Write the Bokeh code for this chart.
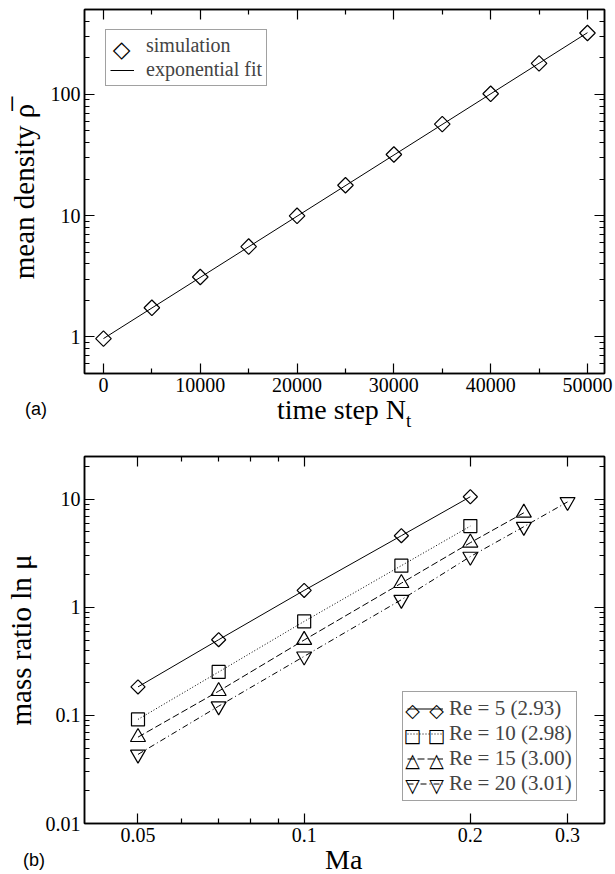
import math
from bokeh.plotting import figure
from bokeh.models import (LinearAxis, LogAxis, FixedTicker, Range1d, Label,
                          Legend, LegendItem, CustomJSTickFormatter, Div)
from bokeh.layouts import column
from bokeh.embed import file_html
from bokeh.resources import INLINE

# ---------------- data : panel (a) ----------------
time_steps = [0, 5000, 10000, 15000, 20000, 25000, 30000, 35000, 40000, 45000, 50000]
mean_density = [0.97, 1.74, 3.12, 5.56, 9.97, 17.8, 31.9, 56.8, 101, 180, 320]
fit_steps = [0, 50000]
fit_density = [0.97, 322]
legend_a_labels = ["simulation", "exponential fit"]

a_x_ticks = [0, 10000, 20000, 30000, 40000, 50000]
a_x_tick_labels = ["0", "10000", "20000", "30000", "40000", "50000"]
a_x_minor = [5000, 15000, 25000, 35000, 45000]
a_y_ticks = [1, 10, 100]
a_y_tick_labels = ["1", "10", "100"]

# ---------------- data : panel (b) ----------------
mach = [0.05, 0.07, 0.1, 0.15, 0.2, 0.25, 0.3]
re5 = [0.184, 0.503, 1.44, 4.62, 10.6]
re10 = [0.092, 0.253, 0.743, 2.44, 5.67]
re15 = [0.063, 0.168, 0.50, 1.68, 3.98, 7.53]
re20 = [0.0436, 0.122, 0.353, 1.18, 2.96, 5.6, 9.5]
series_labels = ["Re = 5 (2.93)", "Re = 10 (2.98)", "Re = 15 (3.00)", "Re = 20 (3.01)"]
series_symbols = ["\u25c7", "\u25a1", "\u25b3", "\u25bd"]

b_x_ticks = [0.05, 0.1, 0.2, 0.3]
b_x_tick_labels = ["0.05", "0.1", "0.2", "0.3"]
b_x_minor = [0.06, 0.07, 0.08, 0.09]
b_y_ticks = [0.01, 0.1, 1, 10]
b_y_tick_labels = ["0.01", "0.1", "1", "10"]

SERIF = "Liberation Serif"
SANS = "Liberation Sans"
SYM = "DejaVu Sans"
W = 615


def log_minor(lo_exp, hi_exp):
    return [m * 10.0 ** k for k in range(lo_exp, hi_exp + 1) for m in range(2, 10)]


def style_axis(ax, show_labels=True):
    ax.axis_line_color = "black"
    ax.axis_line_width = 1.5
    ax.major_tick_in = 10
    ax.major_tick_out = 0
    ax.minor_tick_in = 5
    ax.minor_tick_out = 0
    ax.major_tick_line_color = "black"
    ax.minor_tick_line_color = "black"
    ax.major_tick_line_width = 1.2
    ax.minor_tick_line_width = 1.2
    if show_labels:
        ax.major_label_text_font = SERIF
        ax.major_label_text_font_size = "20px"
        ax.major_label_text_color = "black"
        ax.major_label_standoff = 4
    else:
        ax.major_label_text_font_size = "0px"
        ax.major_label_standoff = 0
        ax.formatter = CustomJSTickFormatter(code="return ''")


def base_fig(height, x_range, y_range, x_type, y_type, borders):
    p = figure(width=W, height=height, x_range=x_range, y_range=y_range,
               x_axis_type=x_type, y_axis_type=y_type,
               output_backend="svg", toolbar_location=None,
               min_border_left=borders[0], min_border_right=borders[1],
               min_border_top=borders[2], min_border_bottom=borders[3])
    p.xgrid.grid_line_color = None
    p.ygrid.grid_line_color = None
    p.outline_line_color = "black"
    p.outline_line_width = 1.5
    p.background_fill_color = "white"
    p.border_fill_color = "white"
    return p


def sym_label(p, x, y, text, size):
    p.add_layout(Label(x=x, y=y, x_units="screen", y_units="screen", text=text,
                       text_font=SYM, text_font_size=size, text_align="center",
                       text_baseline="middle", text_color="black", level="overlay"))


def y_title(ax, text, standoff):
    ax.axis_label = text
    ax.axis_label_text_font = SERIF
    ax.axis_label_text_font_size = "29px"
    ax.axis_label_text_font_style = "normal"
    ax.axis_label_text_color = "black"
    ax.axis_label_standoff = standoff


def span(left, top, size, family, text):
    return ('<span style="position:absolute;left:%spx;top:%spx;font-family:\'%s\';'
            'font-size:%spx;line-height:%spx;white-space:nowrap;color:black;">%s</span>'
            % (left, top, family, size, size, text))


def caption(height, inner):
    html = ('<div style="position:relative;width:%dpx;height:%dpx;margin:0;padding:0;'
            'overflow:visible;">%s</div>' % (W, height, inner))
    return Div(text=html, width=W, height=height, margin=0)


# ================= panel (a) =================
pa = base_fig(400, Range1d(-1960, 51760), Range1d(0.5, 500), "linear", "log",
              (84, 11, 9, 27))
xt_a = FixedTicker(ticks=a_x_ticks, minor_ticks=a_x_minor)
yt_a = FixedTicker(ticks=a_y_ticks, minor_ticks=[v for v in log_minor(-1, 2) if 0.5 <= v <= 500])
pa.xaxis.ticker = xt_a
pa.yaxis.ticker = yt_a
for ax in pa.xaxis:
    style_axis(ax)
    ax.major_label_overrides = dict(zip(a_x_ticks, a_x_tick_labels))
for ax in pa.yaxis:
    style_axis(ax)
    ax.major_label_overrides = dict(zip(a_y_ticks, a_y_tick_labels))
    y_title(ax, "mean density \u03c1\u0305", 8)
top_a = LinearAxis(ticker=xt_a)
style_axis(top_a, False)
pa.add_layout(top_a, "above")
right_a = LogAxis(ticker=yt_a)
style_axis(right_a, False)
pa.add_layout(right_a, "right")

fit_r = pa.line(fit_steps, fit_density, line_color="black", line_width=1)
pa.scatter(time_steps, mean_density, marker="square", angle=math.pi / 4, size=11,
           fill_color=None, line_color="black", line_width=1.2)
blank_a = pa.line(x=[], y=[], line_alpha=0)

LA_X, LA_Y, LA_PAD, LA_ROW, LA_GW = 21, 287, 4, 22, 24
leg_a = Legend(items=[LegendItem(label=legend_a_labels[0], renderers=[blank_a]),
                      LegendItem(label=legend_a_labels[1], renderers=[fit_r])],
               location=(LA_X, LA_Y), padding=LA_PAD, spacing=1, margin=0,
               glyph_width=LA_GW, glyph_height=LA_ROW, label_height=LA_ROW, label_standoff=12,
               label_text_font=SERIF, label_text_font_size="20px",
               border_line_color="#444444", border_line_width=1.2,
               background_fill_alpha=0)
pa.add_layout(leg_a)
la_top = LA_Y + 2 * LA_PAD + 2 * LA_ROW + 1
sym_label(pa, LA_X + LA_PAD + LA_GW / 2, la_top - LA_PAD - LA_ROW / 2, series_symbols[0], "23px")

cap_a = caption(36,
                span(25, 0, 18, "Liberation Sans", "(a)")
                + span(277, -4, 28, "Liberation Serif",
                       'time step N<span style="font-size:19px;position:relative;top:8px;">t</span>'))

# ================= panel (b) =================
pb = base_fig(414, Range1d(0.04, 0.35), Range1d(0.01, 25), "log", "log",
              (83, 8, 20, 27))
xt_b = FixedTicker(ticks=b_x_ticks, minor_ticks=b_x_minor)
yt_b = FixedTicker(ticks=b_y_ticks, minor_ticks=[v for v in log_minor(-2, 1) if v <= 25])
pb.xaxis.ticker = xt_b
pb.yaxis.ticker = yt_b
for ax in pb.xaxis:
    style_axis(ax)
    ax.major_label_overrides = dict(zip(b_x_ticks, b_x_tick_labels))
for ax in pb.yaxis:
    style_axis(ax)
    ax.major_label_overrides = dict(zip(b_y_ticks, b_y_tick_labels))
    y_title(ax, "mass ratio ln \u03bc", 6)
top_b = LogAxis(ticker=xt_b)
style_axis(top_b, False)
pb.add_layout(top_b, "above")
right_b = LogAxis(ticker=yt_b)
style_axis(right_b, False)
pb.add_layout(right_b, "right")

series = [
    (mach[:5], re5, "solid", "square", math.pi / 4, 10),
    (mach[:5], re10, "1 2", "square", 0, 13),
    (mach[:6], re15, "7 3", "triangle", 0, 15),
    (mach[:7], re20, "6 3 1 3", "inverted_triangle", 0, 15),
]
items = []
for (xs, ys, dash, mk, ang, sz), lab in zip(series, series_labels):
    lr = pb.line(xs, ys, line_color="black", line_width=1, line_dash=dash)
    pb.scatter(xs, ys, marker=mk, angle=ang, size=sz, fill_color=None,
               line_color="black", line_width=1.2)
    items.append(LegendItem(label=lab, renderers=[lr]))

LB_X, LB_Y, LB_PAD, LB_ROW, LB_GW = 318, 22, 4, 25, 36
leg_b = Legend(items=items, location=(LB_X, LB_Y), padding=LB_PAD, spacing=0, margin=0,
               glyph_width=LB_GW, glyph_height=LB_ROW, label_height=LB_ROW, label_standoff=6,
               label_text_font=SERIF, label_text_font_size="21px",
               border_line_color="#444444", border_line_width=1.2,
               background_fill_alpha=0)
pb.add_layout(leg_b)
lb_top = LB_Y + 2 * LB_PAD + len(items) * LB_ROW
for i, sym in enumerate(series_symbols):
    cy = lb_top - LB_PAD - LB_ROW / 2 - i * LB_ROW
    for gx in (LB_X + LB_PAD + 6, LB_X + LB_PAD + LB_GW - 6):
        sym_label(pb, gx, cy, sym, "19px")

cap_b = caption(24,
                span(23, 1, 18, "Liberation Sans", "(b)")
                + span(325, -4, 28, "Liberation Serif", "Ma"))

layout = column(pa, cap_a, pb, cap_b, spacing=0)
open("out.html", "w").write(file_html(layout, INLINE))
